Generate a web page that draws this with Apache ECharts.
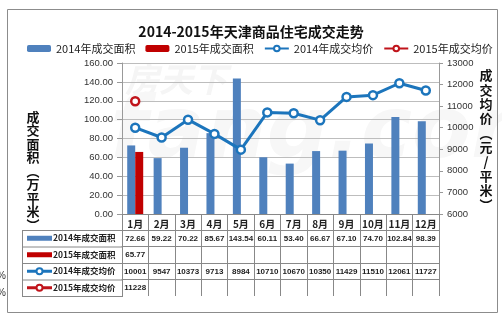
<!DOCTYPE html>
<html><head><meta charset="utf-8">
<script src="https://cdn.jsdelivr.net/npm/echarts@6/dist/echarts.min.js"></script>
<style>html,body{margin:0;padding:0;background:#fff}#c{width:502px;height:323px}</style>
</head><body><div id="c"></div>
<script>
const months = ['1月','2月','3月','4月','5月','6月','7月','8月','9月','10月','11月','12月'];
const area2014 = [72.66,59.22,70.22,85.67,143.54,60.11,53.40,66.67,67.10,74.70,102.84,98.39];
const area2015 = [65.77,null,null,null,null,null,null,null,null,null,null,null];
const price2014 = [10001,9547,10373,9713,8984,10710,10670,10350,11429,11510,12061,11727];
const price2015 = [11228,null,null,null,null,null,null,null,null,null,null,null];
const names = ['2014年成交面积','2015年成交面积','2014年成交均价','2015年成交均价'];
const colBlue = '#4F81BD', colRed = '#C00000', lineBlue = '#1C75BC', lineRed = '#C0141B';
const CJK = '"Noto Sans CJK SC", sans-serif';
const NUM = '"Liberation Sans", Arial, sans-serif';

const rowData = [
  area2014.map(v => v == null ? '' : v.toFixed(2)),
  area2015.map(v => v == null ? '' : v.toFixed(2)),
  price2014.map(v => v == null ? '' : String(v)),
  price2015.map(v => v == null ? '' : String(v))
];
const rowTop = [230, 246.5, 263, 279.5, 296];
const axisBottom = 214;
const tableLeft = 22, headRight = 122;

const chart = echarts.init(document.getElementById('c'), null, {renderer: 'canvas'});

const rowAxes = rowData.map((d, i) => ({
  type: 'category', data: d, position: 'bottom', offset: rowTop[i] - axisBottom,
  axisLine: {show: true, lineStyle: {color: '#888', width: 1}},
  axisTick: {show: false}, splitLine: {show: false},
  axisLabel: {interval: 0, margin: 4.5, fontSize: 8, fontWeight: 'bold', color: '#222', fontFamily: NUM, hideOverlap: false}
}));

const graphics = [
  {type: 'rect', shape: {x: 7.5, y: 9.5, width: 490, height: 303}, style: {fill: 'none', stroke: '#8c8c8c', lineWidth: 1}, z: 0},
  {type: 'text', x: 125, y: 62, z: -1, style: {text: '房天下', font: 'italic bold 34px ' + CJK, fill: '#f5f5f5'}},
  {type: 'text', x: 110, y: 92, z: -1, style: {text: 'fang.com', font: 'italic bold 86px "DejaVu Sans", sans-serif', fill: '#f7f7f7'}},
  {type: 'text', x: 33, y: 110, style: {text: '成\n交\n面\n积\n︵\n万\n平\n米\n︶', font: 'bold 13px ' + CJK, lineHeight: 13.5, fill: '#111', align: 'center'}},
  {type: 'text', x: 486, y: 68, style: {text: '成\n交\n均\n价\n︵\n元\n/\n平\n米\n︶', font: 'bold 13px ' + CJK, lineHeight: 14.4, fill: '#111', align: 'center'}},
  {type: 'line', shape: {x1: tableLeft + 0.5, y1: rowTop[0], x2: tableLeft + 0.5, y2: rowTop[4]}, style: {stroke: '#888', lineWidth: 1}},
  {type: 'text', x: -3, y: 271, style: {text: '%', font: '10px sans-serif', fill: '#333'}},
  {type: 'text', x: -3, y: 288, style: {text: '%', font: '10px sans-serif', fill: '#333'}}
];
rowTop.forEach(y => graphics.push({type: 'line', shape: {x1: tableLeft, y1: y + 0.5, x2: headRight + 1, y2: y + 0.5}, style: {stroke: '#888', lineWidth: 1}}));
names.forEach((n, i) => {
  const cy = (rowTop[i] + rowTop[i + 1]) / 2;
  const isBar = i < 2;
  const c = isBar ? (i === 0 ? colBlue : colRed) : (i === 2 ? lineBlue : lineRed);
  if (isBar) {
    graphics.push({type: 'rect', shape: {x: 27, y: cy - 2.5, width: 25, height: 5}, style: {fill: c}});
  } else {
    graphics.push({type: 'line', shape: {x1: 27, y1: cy, x2: 52, y2: cy}, style: {stroke: c, lineWidth: 3}});
    graphics.push({type: 'circle', shape: {cx: 39.5, cy: cy, r: 3}, style: {fill: '#fff', stroke: c, lineWidth: 2}});
  }
  graphics.push({type: 'text', x: 53, y: cy, style: {text: n, font: 'bold 8.5px ' + CJK, fill: '#222', verticalAlign: 'middle'}});
});

chart.setOption({
  animation: false,
  backgroundColor: '#fff',
  title: {text: '2014-2015年天津商品住宅成交走势', left: 'center', top: 20,
    textStyle: {fontSize: 14, fontWeight: 'bold', color: '#111', fontFamily: CJK}},
  legend: {top: 38, left: 22, itemWidth: 24, itemHeight: 7, itemGap: 10,
    textStyle: {fontSize: 11, color: '#222', fontFamily: CJK},
    data: names},
  grid: {left: 122, right: 63, top: 63, bottom: 109, containLabel: false, outerBoundsMode: 'none'},
  xAxis: [
    {type: 'category', data: months, position: 'bottom',
      axisLine: {show: true, lineStyle: {color: '#888', width: 1}},
      axisTick: {show: true, interval: 0, length: rowTop[4] - axisBottom, lineStyle: {color: '#888'}},
      axisLabel: {interval: 0, margin: 5, fontSize: 10, fontWeight: 'bold', color: '#222', fontFamily: CJK},
      splitLine: {show: false}},
    ...rowAxes
  ],
  yAxis: [
    {type: 'value', min: 0, max: 160, interval: 20, position: 'left',
      axisLine: {show: true, lineStyle: {color: '#999'}},
      axisTick: {show: true, length: 5, lineStyle: {color: '#999'}},
      axisLabel: {formatter: v => v.toFixed(2), fontSize: 9.5, color: '#333', margin: 9, fontFamily: '"Liberation Sans", sans-serif'},
      splitLine: {show: true, lineStyle: {color: '#bdbdbd', width: 1}}},
    {type: 'value', min: 6000, max: 13000, interval: 1000, position: 'right',
      axisLine: {show: true, lineStyle: {color: '#999'}},
      axisTick: {show: true, length: 4, lineStyle: {color: '#999'}},
      axisLabel: {formatter: v => String(v), fontSize: 9.5, color: '#333', margin: 8, fontFamily: '"Liberation Sans", sans-serif'},
      splitLine: {show: false}}
  ],
  series: [
    {name: names[0], type: 'bar', data: area2014, barWidth: 8, barGap: '0%', itemStyle: {color: colBlue}, z: 2},
    {name: names[1], type: 'bar', data: area2015.map(v => v == null ? '-' : v), barWidth: 8, barGap: '0%', itemStyle: {color: colRed}, z: 2},
    {name: names[2], type: 'line', yAxisIndex: 1, data: price2014, symbol: 'circle', symbolSize: 8,
      lineStyle: {color: lineBlue, width: 3}, itemStyle: {color: '#fff', borderColor: lineBlue, borderWidth: 2.5}, z: 3},
    {name: names[3], type: 'line', yAxisIndex: 1, data: price2015.map(v => v == null ? '-' : v), symbol: 'circle', symbolSize: 8,
      lineStyle: {color: lineRed, width: 3}, itemStyle: {color: '#fff', borderColor: lineRed, borderWidth: 2.5}, z: 3}
  ],
  graphic: graphics
});
</script></body></html>
